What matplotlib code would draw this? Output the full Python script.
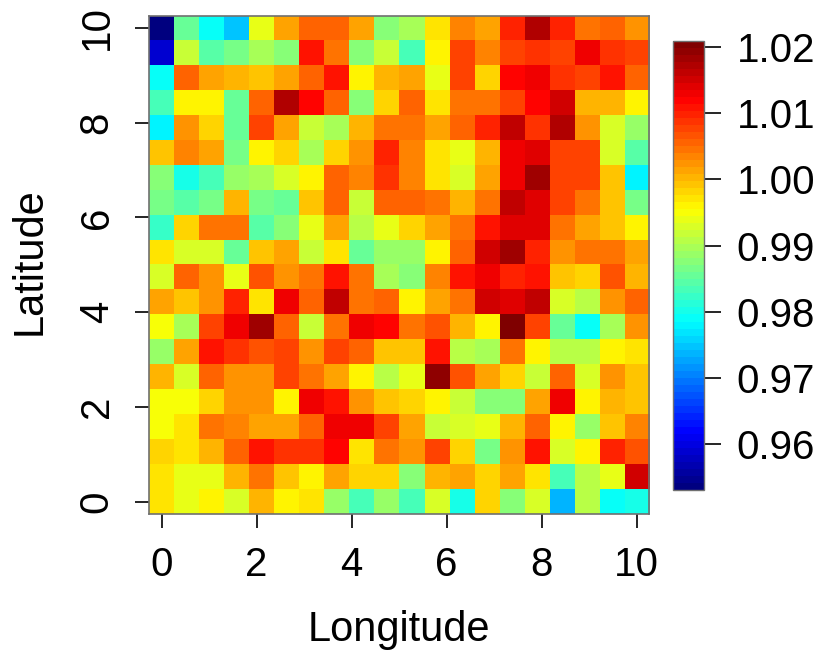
#!/usr/bin/env python3
import numpy as np
import matplotlib
matplotlib.use("Agg")
import matplotlib.pyplot as plt
from matplotlib.colors import LinearSegmentedColormap

plt.rcParams['font.family'] = ['Liberation Sans', 'DejaVu Sans']

lon_ticks = [0, 2, 4, 6, 8, 10]
lat_ticks = [0, 2, 4, 6, 8, 10]
bar_ticks = [0.96, 0.97, 0.98, 0.99, 1.00, 1.01, 1.02]
bar_min = 0.953
bar_max = 1.021

# rows from latitude 10 (top) down to latitude 0
values = np.array([
    [.953,.9855,.9785,.9745,.9941,1.0015,1.0055,1.0055,1.001,.988,.9895,.9975,1.003,1.0015,1.0094,1.017,1.0094,1.005,1.0057,1.002],
    [.959,.9915,.984,.986,.9895,.9875,1.0112,1.005,.9875,.9915,.983,.9955,1.0072,1.0035,1.0074,1.0085,1.0078,1.0135,1.0085,1.0074],
    [.9785,1.0057,1.0015,1.0002,.9993,1.0015,1.0057,1.0105,.9955,1.0002,1.0015,.9941,1.0078,.9982,1.0115,1.0125,1.0085,1.0072,1.011,1.006],
    [.983,.9955,.9955,.985,1.006,1.017,1.0115,1.0057,.9875,.9982,1.0052,.9975,1.0047,1.0043,1.0078,1.0115,1.0148,1.0007,1.0007,.9955],
    [.978,1.0019,.9985,.985,1.0074,1.0015,.9915,.990,1.0002,1.0043,1.0043,1.001,1.0057,1.0094,1.0159,1.0088,1.017,1.0028,.9933,.989],
    [.9993,1.0035,1.001,.9865,.9955,.9985,.9895,.9985,1.0019,1.0094,1.0035,.9972,.9941,.9999,1.0125,1.0139,1.0074,1.0074,.9933,.9848],
    [.987,.9805,.9835,.989,.990,.9925,.9955,1.0057,1.0035,1.0085,1.0035,.9975,.9933,1.0018,1.0125,1.0188,1.0074,1.0074,.9993,.9778],
    [.986,.984,.986,1.0002,.986,.9855,.999,1.0052,.9915,1.0052,1.0058,1.005,1.0002,1.005,1.0159,1.0139,1.0074,1.004,.999,.9862],
    [.982,.9982,1.004,1.0043,.9845,.987,.9941,1.0015,.9905,.9941,.9982,1.0015,1.004,1.0105,1.0145,1.0139,1.0043,1.0015,.999,.9955],
    [.9972,.9933,.9933,.985,.9993,1.0015,.9915,.9975,.985,.989,.989,.9955,1.0057,1.0148,1.0188,1.0094,1.002,1.0043,1.004,1.001],
    [.9933,1.0058,1.0026,.9941,1.0069,1.0023,1.004,1.011,1.004,.9895,.9875,1.0035,1.011,1.0125,1.0094,1.011,.9989,.9982,1.0069,.9999],
    [1.0015,.9989,1.0028,1.0094,.9972,1.0125,1.0057,1.0159,1.005,1.0058,.9955,1.0015,1.005,1.0148,1.0139,1.0159,.9933,.9905,1.0019,1.0058],
    [.9945,.9895,1.0078,1.0125,1.0188,1.0057,.9915,1.0043,1.0125,1.0115,1.004,1.0069,1.0002,.9955,1.021,1.0078,.985,.9785,.9895,1.0023],
    [.989,1.0016,1.0108,1.0085,1.0069,1.0074,1.0023,1.0078,1.0058,.9989,.9993,1.0105,.9905,.9895,1.005,.9955,.9905,.9905,.9955,.9969],
    [1.0007,.9933,1.0052,1.0028,1.0023,1.0078,1.005,1.001,.9955,.9905,.9941,1.0198,1.0069,1.0015,.9985,.9915,1.0057,.9933,1.0028,.9989],
    [.9945,.9945,.9982,1.0019,1.0019,.9955,1.0135,1.0105,1.0019,.9989,.9982,.9955,.9915,.987,.987,1.0015,1.0125,.9955,1.0002,.9989],
    [.9945,.9969,1.004,1.0035,1.0015,1.0015,1.0058,1.0125,1.0125,1.0074,1.0017,.9915,.9933,.9941,1.0002,1.0058,.9955,.989,.9989,1.0035],
    [.9985,.9969,1.0002,1.0058,1.0105,1.0085,1.0085,1.0115,.9969,1.005,1.0023,1.0078,.9985,.986,1.0023,1.0105,.9933,.9955,1.0094,1.0069],
    [.9969,.9941,.9941,.9999,1.004,.9993,.9955,1.0015,.9982,.9982,.987,.9999,1.0015,.9982,1.0015,.9969,.983,.9905,.9941,1.0148],
    [.9972,.9941,.9955,.9933,1.0002,.9955,.9972,.989,.9835,.989,.983,.9933,.9805,.9985,.987,.9933,.974,.9905,.9785,.9805],
])

W, H = 830, 664
# same nodes as the usual 64 level jet palette
cmap = LinearSegmentedColormap.from_list(
    "tim",
    [(0, (0, 0, 0.5)), (0.125, (0, 0, 1)), (0.375, (0, 1, 1)),
     (0.625, (1, 1, 0)), (0.875, (1, 0, 0)), (1, (0.5, 0, 0))],
    N=64)

fig = plt.figure(figsize=(W / 100, H / 100), dpi=100)
ax = fig.add_axes([149 / W, 1 - 514 / H, 500 / W, 498.5 / H])
half_cell = 10 / 19 / 2
img = ax.imshow(values, cmap=cmap, vmin=bar_min, vmax=bar_max, aspect='auto',
                interpolation='nearest',
                extent=[-half_cell, 10 + half_cell, -half_cell, 10 + half_cell])

ax.set_xticks(lon_ticks)
ax.set_yticks(lat_ticks)
ax.tick_params(length=10, width=1.2, labelsize=29)
ax.tick_params(axis='x', pad=13)
ax.tick_params(axis='y', pad=14)
plt.setp(ax.get_yticklabels(), rotation=90, va='center')
ax.set_xlabel("Longitude", fontsize=30, labelpad=19)
ax.set_ylabel("Latitude", fontsize=30, labelpad=20, y=0.508)
for spine in ax.spines.values():
    spine.set_color('#707070')
    spine.set_linewidth(1.2)

cax = fig.add_axes([673 / W, 1 - 490 / H, 30.5 / W, 449.3 / H])
bar = fig.colorbar(img, cax=cax)
bar.set_ticks(bar_ticks)
bar.set_ticklabels([f"{t:.2f}" for t in bar_ticks])
bar.ax.tick_params(length=12.5, width=1.2, labelsize=29, pad=11.5)
bar.outline.set_edgecolor('#707070')
bar.outline.set_linewidth(1.0)

fig.savefig("out.png", dpi=100)
